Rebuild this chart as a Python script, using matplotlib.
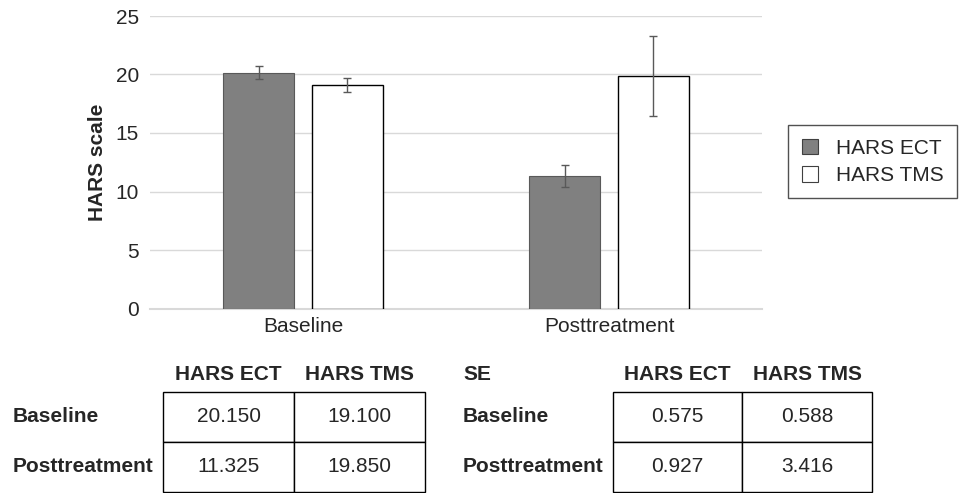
import matplotlib

matplotlib.use("Agg")
import matplotlib.pyplot as plt
import numpy as np
from matplotlib.patches import Patch


categories = ["Baseline", "Posttreatment"]
series_names = ["HARS ECT", "HARS TMS"]
ect_means = [20.150, 11.325]
tms_means = [19.100, 19.850]
ect_se = [0.575, 0.927]
tms_se = [0.588, 3.416]
y_ticks = [0, 5, 10, 15, 20, 25]

TEXT_COLOR = "#262626"
GRID_COLOR = "#d9d9d9"


def fmt(values):
    return [f"{v:.3f}" for v in values]


def draw_table(fig, rect, corner, rows, cols, cells):
    # cell grid lives in its own blank axes; labels sit outside the borders
    left, bottom, width, height = rect
    tax = fig.add_axes(rect)
    tax.axis("off")
    table = tax.table(cellText=cells, cellLoc="center", bbox=[0, 0, 1, 1])
    table.auto_set_font_size(False)
    for cell in table.get_celld().values():
        cell.set_linewidth(1.0)
        cell.set_edgecolor("black")
        cell.get_text().set_fontsize(15)
        cell.get_text().set_color(TEXT_COLOR)

    header_y = bottom + height + 0.036
    col_w = width / len(cols)
    for i, name in enumerate(cols):
        fig.text(left + col_w * (i + 0.5), header_y, name, ha="center",
                 va="center", fontweight="bold", color=TEXT_COLOR)
    row_h = height / len(rows)
    label_x = left - 150 / 964
    if corner:
        fig.text(label_x, header_y, corner, ha="left", va="center",
                 fontweight="bold", color=TEXT_COLOR)
    for j, name in enumerate(rows):
        fig.text(label_x, bottom + height - row_h * (j + 0.5), name,
                 ha="left", va="center", fontweight="bold", color=TEXT_COLOR)


plt.rcParams["font.family"] = ["Liberation Sans", "DejaVu Sans"]
plt.rcParams["font.size"] = 15

fig = plt.figure(figsize=(9.64, 4.93), dpi=100)
ax = fig.add_axes([150 / 964, 1 - 308.5 / 493, 612 / 964, 292.5 / 493])

x = np.arange(len(categories))
bar_w = 0.23
offset = 0.145
err_style = dict(ecolor="#595959", elinewidth=1.0, capsize=3.0, capthick=1.0)

ax.bar(x - offset, ect_means, bar_w, color="#808080", edgecolor="#595959",
       linewidth=0.8, yerr=ect_se, error_kw=err_style, label=series_names[0],
       zorder=3)
ax.bar(x + offset, tms_means, bar_w, color="white", edgecolor="black",
       linewidth=1.0, yerr=tms_se, error_kw=err_style, label=series_names[1],
       zorder=3)

ax.set_xlim(-0.5, len(categories) - 0.5)
ax.set_ylim(0, 25)
ax.set_yticks(y_ticks)
ax.set_xticks(x)
ax.set_xticklabels(categories)
ax.tick_params(axis="both", length=0, colors=TEXT_COLOR, labelsize=15)
ax.tick_params(axis="y", pad=8)
ax.tick_params(axis="x", pad=6)
ax.yaxis.grid(True, color=GRID_COLOR, linewidth=1.0, zorder=0)
ax.set_axisbelow(True)
for side in ("top", "right", "left"):
    ax.spines[side].set_visible(False)
ax.spines["bottom"].set_color(GRID_COLOR)
ax.spines["bottom"].set_linewidth(1.5)
ax.set_ylabel("HARS scale", fontweight="bold", color=TEXT_COLOR, labelpad=6)

handles = [
    Patch(facecolor="#808080", edgecolor="#404040", linewidth=0.8),
    Patch(facecolor="white", edgecolor="#404040", linewidth=0.8),
]
leg = fig.legend(handles, series_names, loc="upper left",
                 bbox_to_anchor=(788 / 964, 1 - 125 / 493), frameon=True,
                 fancybox=False, edgecolor="#262626", handlelength=0.8,
                 handleheight=0.8, handletextpad=0.85, labelspacing=0.38,
                 borderpad=0.65, borderaxespad=0)
leg.get_frame().set_linewidth(1.0)
for t in leg.get_texts():
    t.set_color(TEXT_COLOR)

mean_cells = [fmt([ect_means[i], tms_means[i]]) for i in range(len(categories))]
se_cells = [fmt([ect_se[i], tms_se[i]]) for i in range(len(categories))]

draw_table(fig, [163 / 964, 1.5 / 493, 262 / 964, 99.5 / 493], None,
           categories, series_names, mean_cells)
draw_table(fig, [613 / 964, 1.5 / 493, 259 / 964, 99.5 / 493], "SE",
           categories, series_names, se_cells)

fig.savefig("out.png", dpi=100)
plt.close(fig)
